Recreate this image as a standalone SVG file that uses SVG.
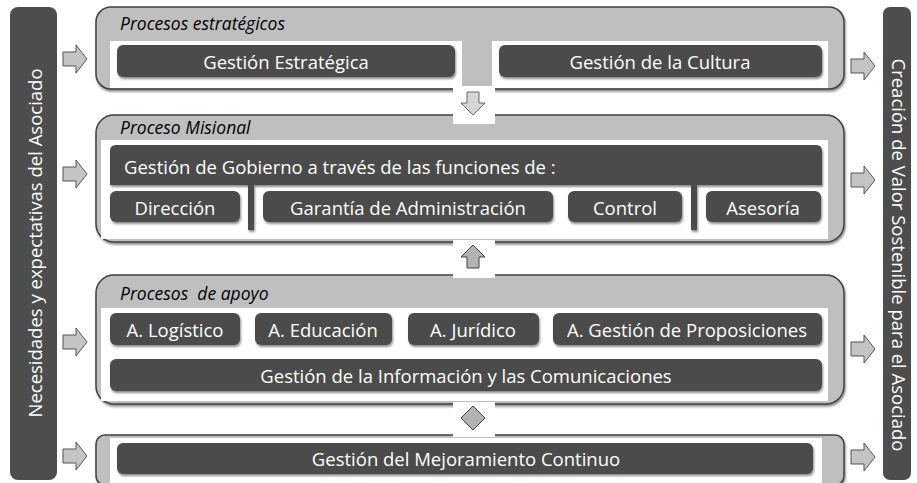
<svg xmlns="http://www.w3.org/2000/svg" width="917" height="483" viewBox="0 0 917 483">
<defs>
<filter id="sh" x="-5%" y="-10%" width="110%" height="130%">
<feDropShadow dx="1" dy="2" stdDeviation="1.2" flood-color="#000" flood-opacity="0.45"/>
</filter>
</defs>
<style>
.bar{fill:#4d4d4d}
.panel{fill:#bfbfbf;stroke:#404040;stroke-width:1.5;filter:url(#sh)}
.inner{fill:#ffffff}
.box{fill:#4b4b4b;filter:url(#sh)}
.t{font-family:"Open Sans","Liberation Sans",Arial,sans-serif;font-size:18.5px;fill:#ffffff;text-anchor:middle;dominant-baseline:central}
.tl{text-anchor:start}
.title{font-family:"Open Sans","Liberation Sans",Arial,sans-serif;font-size:17.5px;font-style:italic;fill:#000000;white-space:pre}
.side{fill:#c4c4c4;stroke:#555555;stroke-width:1}
.down{fill:#d6d6d6;stroke:#666666;stroke-width:1}
.up{fill:#b3b3b3;stroke:#404040;stroke-width:1}
.gap{fill:#ffffff}
</style>
<rect width="917" height="483" fill="#ffffff"/>

<g id="left-bar">
<rect class="bar" x="10" y="7" width="47" height="473" rx="8"/>
<text class="t" transform="translate(34,243) rotate(-90)">Necesidades y expectativas del Asociado</text>
</g>
<g id="right-bar">
<rect class="bar" x="883" y="7" width="28" height="473" rx="7"/>
<text class="t" transform="translate(899,255) rotate(90)">Creación de Valor Sostenible para el Asociado</text>
</g>

<g id="panel-estrategicos">
<rect class="panel" x="96" y="7" width="748" height="82" rx="15"/>
<rect class="inner" x="110" y="41" width="352" height="47"/>
<rect class="inner" x="492" y="41" width="336" height="47"/>
<text class="title" x="120" y="30">Procesos estratégicos</text>
</g>
<g id="gestion-estrategica">
<rect class="box" x="117" y="45" width="338" height="32" rx="6"/>
<text class="t" x="286" y="61">Gestión Estratégica</text>
</g>
<g id="gestion-cultura">
<rect class="box" x="499" y="45" width="323" height="32" rx="6"/>
<text class="t" x="660" y="61">Gestión de la Cultura</text>
</g>

<g id="panel-misional">
<rect class="panel" x="96" y="115" width="748" height="127" rx="18"/>
<rect class="inner" x="101" y="140" width="727" height="99"/>
<text class="title" x="120" y="134">Proceso Misional</text>
</g>
<g id="gestion-gobierno">
<path class="box" d="M116,145 H816 Q822,145 822,151 V185 H697 V230 H691 V185 H254 V230 H248 V185 H110 V151 Q110,145 116,145 Z"/>
<text class="t tl" x="124" y="166">Gestión de Gobierno a través de las funciones de :</text>
</g>
<g id="direccion">
<rect class="box" x="110" y="191" width="130" height="31" rx="6"/>
<text class="t" x="175" y="207">Dirección</text>
</g>
<g id="garantia">
<rect class="box" x="263" y="191" width="290" height="31" rx="6"/>
<text class="t" x="408" y="207">Garantía de Administración</text>
</g>
<g id="control">
<rect class="box" x="568" y="191" width="114" height="31" rx="6"/>
<text class="t" x="625" y="207">Control</text>
</g>
<g id="asesoria">
<rect class="box" x="706" y="191" width="115" height="31" rx="6"/>
<text class="t" x="763" y="207">Asesoría</text>
</g>

<g id="panel-apoyo">
<rect class="panel" x="96" y="275" width="748" height="129" rx="18"/>
<rect class="inner" x="101" y="308" width="727" height="93"/>
<text class="title" x="120" y="300" xml:space="preserve">Procesos  de apoyo</text>
</g>
<g id="a-logistico">
<rect class="box" x="110" y="313" width="130" height="32" rx="6"/>
<text class="t" x="175" y="329">A. Logístico</text>
</g>
<g id="a-educacion">
<rect class="box" x="255" y="313" width="137" height="32" rx="6"/>
<text class="t" x="323" y="329">A. Educación</text>
</g>
<g id="a-juridico">
<rect class="box" x="408" y="313" width="131" height="32" rx="6"/>
<text class="t" x="473" y="329">A. Jurídico</text>
</g>
<g id="a-proposiciones">
<rect class="box" x="553" y="313" width="269" height="32" rx="6"/>
<text class="t" x="687" y="329">A. Gestión de Proposiciones</text>
</g>
<g id="gestion-informacion">
<rect class="box" x="110" y="359" width="712" height="32" rx="6"/>
<text class="t" x="466" y="375">Gestión de la Información y las Comunicaciones</text>
</g>

<g id="panel-mejoramiento">
<rect class="panel" x="96" y="435" width="748" height="50" rx="9"/>
<rect class="inner" x="110" y="438" width="712" height="45"/>
</g>
<g id="gestion-mejoramiento">
<rect class="box" x="117" y="443" width="696" height="31" rx="6"/>
<text class="t" x="466" y="458">Gestión del Mejoramiento Continuo</text>
</g>

<g id="connectors">
<rect class="gap" x="453" y="86" width="42" height="38"/>
<path class="down" d="M467,92 h12 v11 h6 l-12,12 l-12,-12 h6 z"/>
<rect class="gap" x="453" y="240" width="42" height="38"/>
<path class="up" d="M473,245 l12,12 h-6 v11 h-12 v-11 h-6 z"/>
<rect class="gap" x="453" y="402" width="42" height="35"/>
<path class="up" d="M473,406 l12,12 l-12,12 l-12,-12 z"/>
<path class="side" d="M63,52 h13 v-7 l11,14 l-11,14 v-7 h-13 z"/>
<path class="side" d="M63,167 h13 v-7 l11,14 l-11,14 v-7 h-13 z"/>
<path class="side" d="M63,335 h13 v-7 l11,14 l-11,14 v-7 h-13 z"/>
<path class="side" d="M63,449 h13 v-7 l11,14 l-11,14 v-7 h-13 z"/>
<path class="side" d="M851,59 h13 v-7 l11,14 l-11,14 v-7 h-13 z"/>
<path class="side" d="M851,173 h13 v-7 l11,14 l-11,14 v-7 h-13 z"/>
<path class="side" d="M851,342 h13 v-7 l11,14 l-11,14 v-7 h-13 z"/>
<path class="side" d="M851,450 h13 v-7 l11,14 l-11,14 v-7 h-13 z"/>
</g>
</svg>
